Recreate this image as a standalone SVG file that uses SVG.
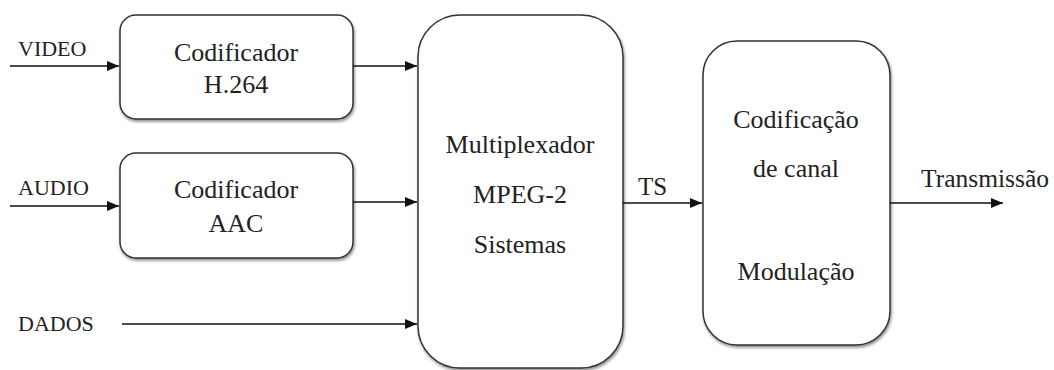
<svg xmlns="http://www.w3.org/2000/svg" width="1054" height="370" viewBox="0 0 1054 370">
<style>
.box{fill:#fff;stroke:#333;stroke-width:1.5;filter:url(#sh)}
text{font-family:'Liberation Serif','Tinos','Times New Roman','DejaVu Serif',serif;fill:#222}
.t{text-anchor:middle;font-size:26px}
.l{font-size:22px}
.c{stroke:#111;stroke-width:1.3;fill:none;marker-end:url(#ah)}
</style>
<defs>
<filter id="sh" x="-10%" y="-10%" width="120%" height="120%">
<feGaussianBlur in="SourceAlpha" stdDeviation="1.5"/>
<feOffset dx="1" dy="1.5" result="b"/>
<feComponentTransfer><feFuncA type="linear" slope="0.45"/></feComponentTransfer>
<feMerge><feMergeNode/><feMergeNode in="SourceGraphic"/></feMerge>
</filter>
<marker id="ah" markerWidth="12" markerHeight="10" refX="12" refY="5" orient="auto" markerUnits="userSpaceOnUse">
<path d="M0,0 L12,5 L0,10 Z" fill="#111"/>
</marker>
</defs>
<g id="enc-video">
<rect class="box" x="120" y="15" width="233" height="104" rx="16"/>
<text class="t" x="236" y="61">Codificador</text>
<text class="t" x="236" y="93">H.264</text>
</g>
<g id="enc-audio">
<rect class="box" x="120" y="153" width="233" height="105" rx="16"/>
<text class="t" x="236" y="198">Codificador</text>
<text class="t" x="236" y="232">AAC</text>
</g>
<g id="mux">
<rect class="box" x="418" y="15" width="205" height="353" rx="42"/>
<text class="t" x="520" y="153">Multiplexador</text>
<text class="t" x="520" y="203">MPEG-2</text>
<text class="t" x="520" y="253">Sistemas</text>
</g>
<g id="chan">
<rect class="box" x="703" y="41" width="187" height="304" rx="34"/>
<text class="t" x="796" y="128">Codificação</text>
<text class="t" x="796" y="177">de canal</text>
<text class="t" x="796" y="280">Modulação</text>
</g>
<g id="labels">
<text class="l" x="18" y="56">VIDEO</text>
<text class="l" x="18" y="195">AUDIO</text>
<text class="l" x="18" y="331">DADOS</text>
<text class="l" x="638" y="195" style="font-size:25px">TS</text>
<text class="l" x="921" y="187" style="font-size:25.5px">Transmissão</text>
</g>
<g id="connectors">
<path class="c" d="M10,66 H119"/>
<path class="c" d="M353,66 H417"/>
<path class="c" d="M10,206 H119"/>
<path class="c" d="M353,202 H417"/>
<path class="c" d="M122,324 H417"/>
<path class="c" d="M623,203 H702"/>
<path class="c" d="M890,203 H1003"/>
</g>
</svg>
